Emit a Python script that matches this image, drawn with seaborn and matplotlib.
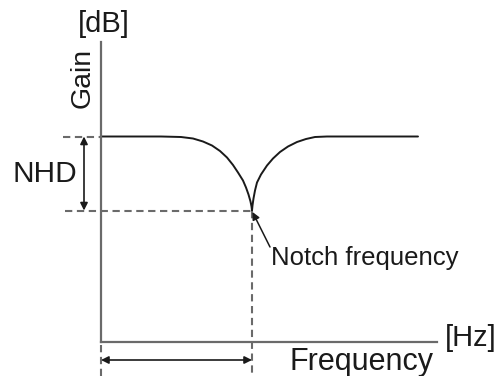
import numpy as np
import pandas as pd
import seaborn as sns
import matplotlib.pyplot as plt

# Notch filter response (arbitrary freq / gain units)
curve_freq = [0, 60, 80, 92, 102, 111, 119, 126, 132, 137, 142, 145, 147.5, 149.5, 150.5, 151,
              151.5, 152.5, 154, 156, 160, 166, 172, 179, 187, 196, 205, 214, 226, 317]
curve_gain = [205, 205, 204.5, 203, 200, 196, 190.5, 184, 176.5, 169, 161, 154, 147, 140, 135, 131,
              136, 143, 151, 159, 167, 176, 183, 189.5, 195, 199.5, 202.5, 204.5, 205, 205]
notch_freq = 151
pass_gain = 205
notch_gain = 131

x_label = 'Frequency'
x_unit = '[Hz]'
y_label = 'Gain'
y_unit = '[dB]'
depth_label = 'NHD'
notch_label = 'Notch frequency'

df = pd.DataFrame({'freq': curve_freq, 'gain': curve_gain})

sns.set_style('white')
plt.rcParams['font.family'] = ['Liberation Sans', 'DejaVu Sans']

fig = plt.figure(figsize=(5, 3.76), dpi=100)
ax = fig.add_axes([101 / 500, 34.5 / 376, 336 / 500, 299.5 / 376])
ax.set_xlim(0, 336)
ax.set_ylim(0, 299.5)

axis_col = '#6a6a6a'
ink = '#1a1a1a'
for side in ['top', 'right']:
    ax.spines[side].set_visible(False)
for side in ['left', 'bottom']:
    ax.spines[side].set_color(axis_col)
    ax.spines[side].set_linewidth(1.6)
ax.set_xticks([])
ax.set_yticks([])

sns.lineplot(data=df, x='freq', y='gain', ax=ax, color=ink, lw=1.4,
             estimator=None, sort=False)

# guide lines
dash = dict(color=axis_col, lw=1.5, ls=(0, (3.5, 2.2)), clip_on=False)
ax.plot([-38, 0], [pass_gain, pass_gain], **dash)
ax.plot([-36, notch_freq], [notch_gain, notch_gain], **dash)
ax.plot([notch_freq, notch_freq], [notch_gain, -35], **dash)
ax.plot([0, 0], [-3, -35], **dash)

# NHD and frequency span arrows
arr = dict(arrowstyle='<|-|>', color=ink, lw=1.2, mutation_scale=11, shrinkA=0, shrinkB=0)
ax.annotate('', xy=(-17, notch_gain), xytext=(-17, pass_gain), arrowprops=arr,
            annotation_clip=False)
ax.annotate('', xy=(notch_freq, -18.5), xytext=(0, -18.5), arrowprops=arr,
            annotation_clip=False)

# notch pointer
ax.annotate('', xy=(notch_freq + 0.5, notch_gain - 1.5), xytext=(169, 94.5),
            arrowprops=dict(arrowstyle='-|>', color=ink, lw=1.1, mutation_scale=11,
                            shrinkA=0, shrinkB=0), annotation_clip=False)

ax.text(170, 83.5, notch_label, ha='left', va='center', fontsize=18.5, color=ink, clip_on=False)
ax.text(3, 317, y_unit, ha='center', va='center', fontsize=21, color=ink, clip_on=False)
ax.text(-18, 263.5, y_label, ha='center', va='center', rotation=90, fontsize=20.5,
        color=ink, clip_on=False)
ax.text(-56, 167, depth_label, ha='center', va='center', fontsize=21.5, color=ink, clip_on=False)
ax.text(260, -28.5, x_label, ha='center', va='baseline', fontsize=22, color=ink, clip_on=False)
ax.text(370, 3.5, x_unit, ha='center', va='center', fontsize=21, color=ink, clip_on=False)

ax.set_xlabel('')
ax.set_ylabel('')
fig.savefig('out.png', dpi=100)
